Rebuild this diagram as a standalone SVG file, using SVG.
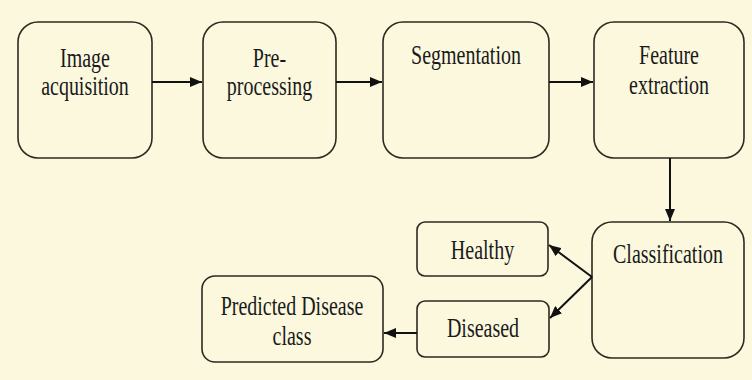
<svg xmlns="http://www.w3.org/2000/svg" width="752" height="380" viewBox="0 0 752 380">
<defs>
<marker id="ah" viewBox="0 0 12 10" refX="12" refY="5" markerWidth="12" markerHeight="10" markerUnits="userSpaceOnUse" orient="auto">
<path d="M0,0 L12,5 L0,10 Z" fill="#111"/>
</marker>
</defs>
<style>
.n{fill:#fbf8de;stroke:#2e2a20;stroke-width:1.6}
.t{font-size:20px;fill:#1a1a1a;text-anchor:middle}
.c{stroke:#111;stroke-width:2;fill:none;marker-end:url(#ah)}
</style>
<rect width="752" height="380" fill="#fbf8de"/>
<g font-family="'Liberation Serif', 'DejaVu Serif', serif">
<g id="n1"><rect class="n" x="18" y="22" width="134" height="136" rx="20"/>
<text class="t" transform="translate(85,67) scale(1,1.35)">Image</text>
<text class="t" transform="translate(85,95) scale(1,1.35)">acquisition</text></g>
<g id="n2"><rect class="n" x="203" y="22" width="133" height="136" rx="20"/>
<text class="t" transform="translate(269.5,67) scale(1,1.35)">Pre-</text>
<text class="t" transform="translate(269.5,95) scale(1,1.35)">processing</text></g>
<g id="n3"><rect class="n" x="383" y="22" width="166" height="136" rx="20"/>
<text class="t" transform="translate(466,64) scale(1,1.35)">Segmentation</text></g>
<g id="n4"><rect class="n" x="594" y="22" width="150" height="136" rx="20"/>
<text class="t" transform="translate(669,64) scale(1,1.35)">Feature</text>
<text class="t" transform="translate(669,94) scale(1,1.35)">extraction</text></g>
<g id="n5"><rect class="n" x="592" y="222" width="152" height="136" rx="20"/>
<text class="t" transform="translate(668,263) scale(1,1.35)">Classification</text></g>
<g id="n6"><rect class="n" x="417" y="222" width="131" height="54" rx="8"/>
<text class="t" transform="translate(482.5,259) scale(1,1.35)">Healthy</text></g>
<g id="n7"><rect class="n" x="417" y="301" width="132" height="56" rx="8"/>
<text class="t" transform="translate(483,337) scale(1,1.35)">Diseased</text></g>
<g id="n8"><rect class="n" x="202" y="276" width="181" height="86" rx="13"/>
<text class="t" transform="translate(292,315) scale(1,1.35)">Predicted Disease</text>
<text class="t" transform="translate(292,345) scale(1,1.35)">class</text></g>
</g>
<g id="connectors">
<line class="c" x1="152" y1="82" x2="202" y2="82"/>
<line class="c" x1="336" y1="82" x2="382" y2="82"/>
<line class="c" x1="549" y1="82" x2="593" y2="82"/>
<line class="c" x1="670" y1="158" x2="670" y2="221"/>
<line class="c" x1="592" y1="277" x2="549" y2="245"/>
<line class="c" x1="592" y1="277" x2="550" y2="318"/>
<line class="c" x1="417" y1="333" x2="384" y2="333"/>
</g>
</svg>
